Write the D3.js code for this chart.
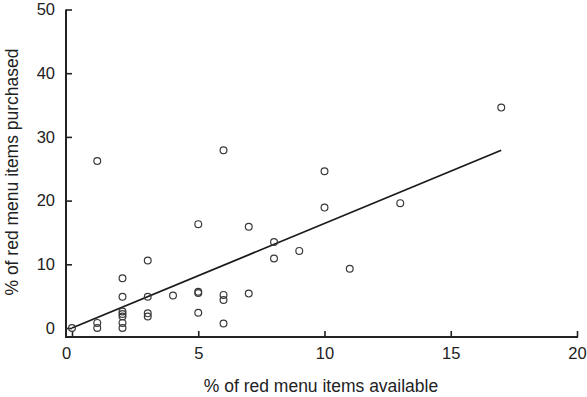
<!DOCTYPE html>
<html>
<head>
<meta charset="utf-8">
<script src="https://cdn.jsdelivr.net/npm/d3@7"></script>
<style>
  html, body { margin: 0; padding: 0; background: #fff; }
  svg text { font-family: "Liberation Sans", Arial, Helvetica, sans-serif; fill: #222; }
</style>
</head>
<body>
<div id="chart"></div>
<script>
// % of red menu items available (x) vs purchased (y), one entry per outlet
const available = [0, 1, 1, 1, 2, 2, 2, 2, 2, 2, 2, 3, 3, 3, 3, 4, 5, 5, 5, 5,
                   6, 6, 6, 6, 7, 7, 8, 8, 9, 10, 10, 11, 13, 17];
const purchased = [0, 26.2, 0.8, 0, 7.8, 4.9, 2.6, 2.2, 1.8, 0.8, 0, 10.6, 4.9, 2.3, 1.8, 5.1,
                   16.3, 5.7, 5.5, 2.4, 27.9, 5.2, 4.4, 0.7, 15.9, 5.4, 13.5, 10.9, 12.1,
                   24.6, 18.9, 9.3, 19.6, 34.6];

// fitted line end points
const fitX = [0, 17];
const fitY = [0, 27.9];

const xTicks = [0, 5, 10, 15, 20];
const yTicks = [0, 10, 20, 30, 40, 50];

const W = 587, H = 397;
const axisX = 66, axisY = 337;   // where the two axis lines sit

const svg = d3.select("#chart").append("svg")
    .attr("width", W).attr("height", H);

const x = d3.scaleLinear().domain([0, 20]).range([72, 577]);
const y = d3.scaleLinear().domain([0, 50]).range([328, 9.5]);

// ==== axes ====
const gx = svg.append("g").attr("transform", `translate(0,${axisY})`)
    .call(d3.axisBottom(x).tickValues(xTicks).tickSize(-6).tickPadding(10));
const gy = svg.append("g").attr("transform", `translate(${axisX},0)`)
    .call(d3.axisLeft(y).tickValues(yTicks).tickSize(-6).tickPadding(11));

[gx, gy].forEach(g => {
    g.select(".domain").remove();
    g.selectAll(".tick line").attr("stroke", "#222").attr("stroke-width", 1.6);
    g.selectAll(".tick text").style("font-size", "16.5px").attr("fill", "#222");
});
// first x label sits under the y axis line in the original
gx.selectAll(".tick text").filter(d => d === 0).attr("dx", -6);

// axis lines
svg.append("line")
    .attr("x1", axisX).attr("x2", axisX)
    .attr("y1", y(50)).attr("y2", axisY + 1)
    .attr("stroke", "#222").attr("stroke-width", 2);
svg.append("line")
    .attr("x1", axisX - 1).attr("x2", x(20) + 1)
    .attr("y1", axisY).attr("y2", axisY)
    .attr("stroke", "#222").attr("stroke-width", 2);

// ==== titles ====
svg.append("text")
    .attr("x", 321).attr("y", 392)
    .attr("text-anchor", "middle")
    .style("font-size", "17.5px")
    .text("% of red menu items available");

svg.append("text")
    .attr("transform", "translate(18,172) rotate(-90)")
    .attr("text-anchor", "middle")
    .style("font-size", "17.5px")
    .text("% of red menu items purchased");

// ==== fit line ====
svg.append("line")
    .attr("x1", x(fitX[0])).attr("y1", y(fitY[0]))
    .attr("x2", x(fitX[1])).attr("y2", y(fitY[1]))
    .attr("stroke", "#1a1a1a").attr("stroke-width", 1.8);

// ==== points ====
svg.append("g").selectAll("circle")
    .data(available.map((v, i) => ({ x: v, y: purchased[i] })))
    .join("circle")
    .attr("cx", d => x(d.x))
    .attr("cy", d => y(d.y))
    .attr("r", 3.4)
    .attr("fill", "none")
    .attr("stroke", "#3a3a3a")
    .attr("stroke-width", 1.2);
</script>
</body>
</html>
